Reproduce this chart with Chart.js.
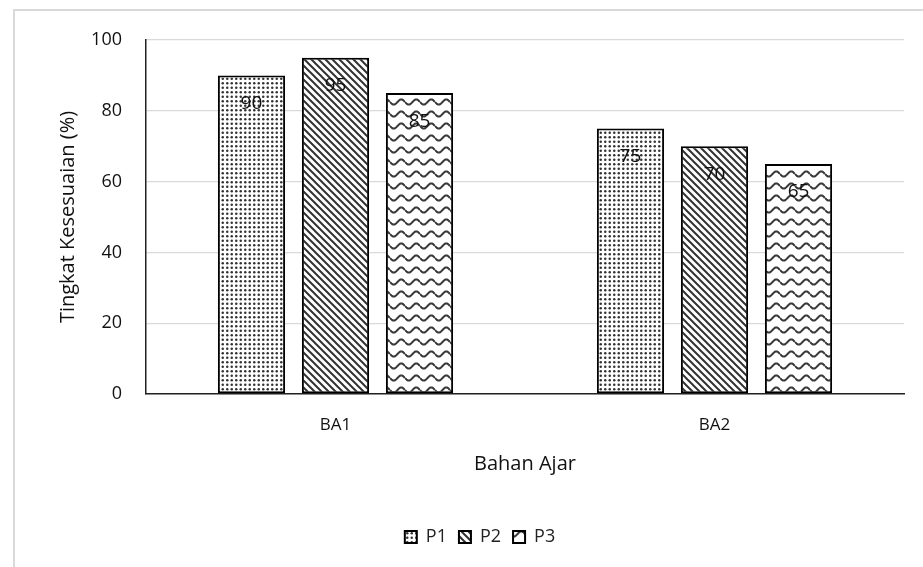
<!DOCTYPE html>
<html>
<head>
<meta charset="utf-8">
<script src="https://cdn.jsdelivr.net/npm/chart.js@4/dist/chart.umd.min.js"></script>
<style>
  html, body { margin: 0; padding: 0; background: #fff; }
  #wrap { width: 923px; height: 567px; }
</style>
</head>
<body>
<div id="wrap"><canvas id="grafico" width="923" height="567"></canvas></div>
<script>
const kategori = ['BA1', 'BA2'];
const namaSeri = ['P1', 'P2', 'P3'];
const nilaiP1 = [90, 75];
const nilaiP2 = [95, 70];
const nilaiP3 = [85, 65];
const tickY = [0, 20, 40, 60, 80, 100];

const FONT = '"Open Sans", Lato, sans-serif';

// pola arsiran untuk tiap seri
function polaTitik() {
  const s = 9;
  const c = document.createElement('canvas');
  c.width = s; c.height = s;
  const g = c.getContext('2d');
  g.fillStyle = '#fff'; g.fillRect(0, 0, s, s);
  g.fillStyle = '#333';
  [[2.25, 2.25], [6.75, 2.25], [2.25, 6.75], [6.75, 6.75]].forEach(p => {
    g.beginPath(); g.arc(p[0], p[1], 1.25, 0, Math.PI * 2); g.fill();
  });
  return g.createPattern(c, 'repeat');
}

function polaGaris() {
  const s = 7;
  const c = document.createElement('canvas');
  c.width = s; c.height = s;
  const g = c.getContext('2d');
  g.fillStyle = '#fff'; g.fillRect(0, 0, s, s);
  g.strokeStyle = '#333'; g.lineWidth = 2;
  g.beginPath();
  g.moveTo(-1, -1); g.lineTo(s + 1, s + 1);
  g.moveTo(-s - 1, -1); g.lineTo(1, s + 1);
  g.moveTo(s - 1, -1); g.lineTo(2 * s + 1, s + 1);
  g.stroke();
  return g.createPattern(c, 'repeat');
}

function polaGelombang() {
  const w = 15, h = 12;
  const c = document.createElement('canvas');
  c.width = w; c.height = h;
  const g = c.getContext('2d');
  g.fillStyle = '#fff'; g.fillRect(0, 0, w, h);
  g.strokeStyle = '#3a3a3a'; g.lineWidth = 2;
  g.beginPath();
  for (let x = 0; x <= w; x += 0.5) {
    const y = 6 + 2.6 * Math.sin((x / w) * Math.PI * 2);
    if (x === 0) g.moveTo(x, y); else g.lineTo(x, y);
  }
  g.stroke();
  return g.createPattern(c, 'repeat');
}

const bingkai = {
  id: 'bingkai',
  beforeDraw(chart) {
    const ctx = chart.ctx;
    ctx.save();
    ctx.fillStyle = '#fff';
    ctx.fillRect(0, 0, chart.width, chart.height);
    ctx.strokeStyle = '#d9d9d9';
    ctx.lineWidth = 2;
    ctx.strokeRect(14, 10, 1000, 1000);
    ctx.restore();
  }
};

const labelNilai = {
  id: 'labelNilai',
  afterDatasetsDraw(chart) {
    const ctx = chart.ctx;
    ctx.save();
    ctx.font = '19px ' + FONT;
    ctx.fillStyle = '#111';
    ctx.textAlign = 'center';
    ctx.textBaseline = 'middle';
    chart.data.datasets.forEach((ds, i) => {
      chart.getDatasetMeta(i).data.forEach((bar, j) => {
        ctx.fillText(ds.data[j], bar.x, bar.y + 28);
      });
    });
    ctx.restore();
  }
};

const ctx = document.getElementById('grafico').getContext('2d');
new Chart(ctx, {
  type: 'bar',
  data: {
    labels: kategori,
    datasets: [
      { label: namaSeri[0], data: nilaiP1, backgroundColor: polaTitik() },
      { label: namaSeri[1], data: nilaiP2, backgroundColor: polaGaris() },
      { label: namaSeri[2], data: nilaiP3, backgroundColor: polaGelombang() }
    ].map(d => Object.assign(d, {
      borderColor: '#000',
      borderWidth: 2,
      borderSkipped: false,
      categoryPercentage: 0.665,
      barPercentage: 0.8
    }))
  },
  options: {
    responsive: false,
    animation: false,
    layout: { padding: { left: 56, right: 19, top: 40, bottom: 11 } },
    plugins: {
      tooltip: { enabled: false },
      legend: {
        position: 'bottom',
        labels: {
          font: { family: FONT, size: 18 },
          color: '#222',
          boxWidth: 12,
          boxHeight: 12,
          padding: 12
        }
      }
    },
    scales: {
      x: {
        afterFit(scale) { scale.height = 122; },
        grid: { display: false, drawTicks: false },
        border: { display: true, color: '#222', width: 1.5 },
        ticks: { font: { family: FONT, size: 17 }, color: '#111', padding: 21 },
        title: {
          display: true,
          text: 'Bahan Ajar',
          font: { family: FONT, size: 20 },
          color: '#111',
          padding: { top: 4, bottom: 40 }
        }
      },
      y: {
        min: 0,
        max: 100,
        afterBuildTicks(scale) { scale.ticks = tickY.map(v => ({ value: v })); },
        afterFit(scale) { scale.width = 90; },
        grid: { color: '#d9d9d9', lineWidth: 1.3, drawTicks: false },
        border: { display: true, color: '#222', width: 1.5 },
        ticks: { font: { family: FONT, size: 18 }, color: '#111', padding: 24 },
        title: {
          display: true,
          text: 'Tingkat Kesesuaian (%)',
          font: { family: FONT, size: 20 },
          color: '#111',
          padding: 0
        }
      }
    }
  },
  plugins: [bingkai, labelNilai]
});
</script>
</body>
</html>
